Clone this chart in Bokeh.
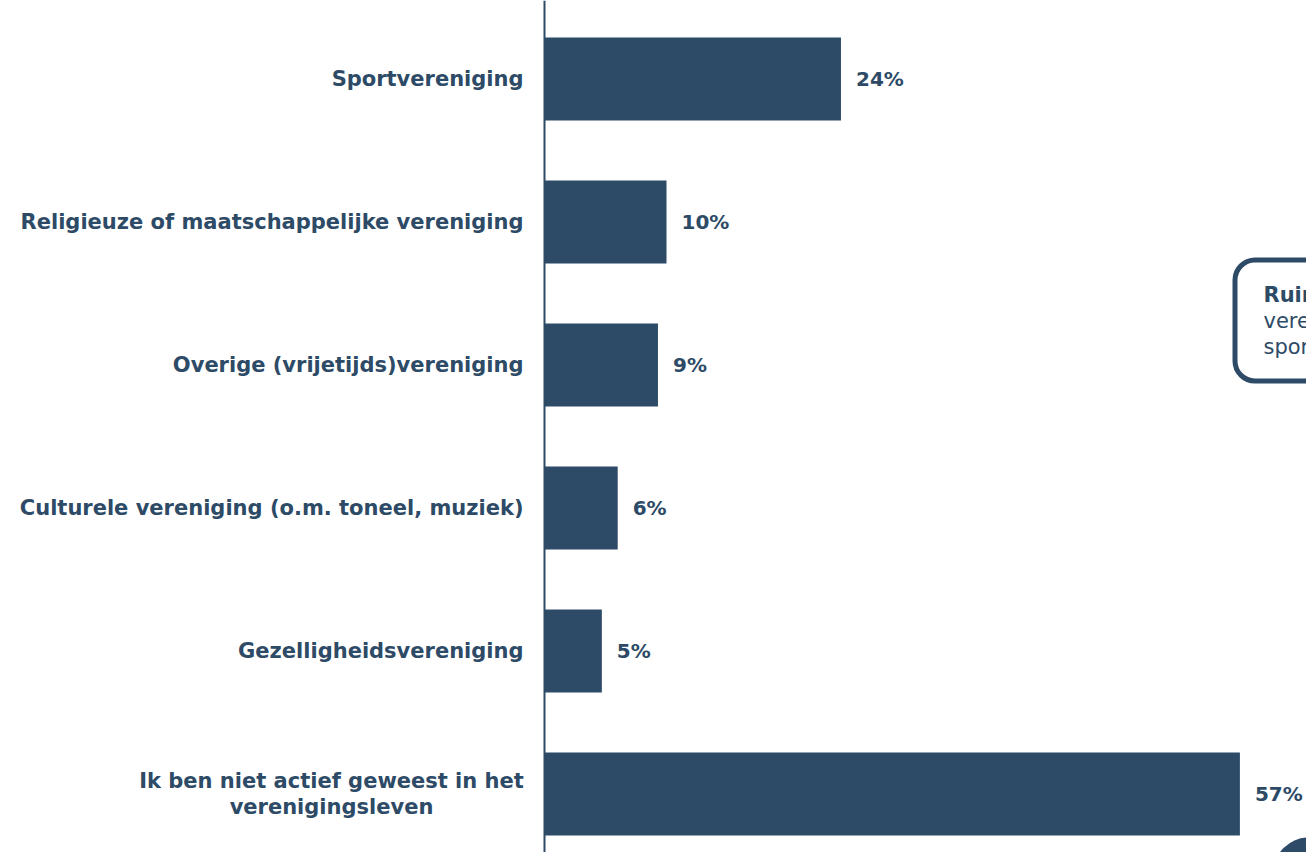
from bokeh.plotting import figure
from bokeh.models import ColumnDataSource, Range1d, Span, BoxAnnotation
from bokeh.core.properties import value
from bokeh.embed import file_html
from bokeh.resources import INLINE

categories = [
    "Sportvereniging",
    "Religieuze of maatschappelijke vereniging",
    "Overige (vrijetijds)vereniging",
    "Culturele vereniging (o.m. toneel, muziek)",
    "Gezelligheidsvereniging",
    "Ik ben niet actief geweest in het\nverenigingsleven",
]
values = [24.3, 10.0, 9.3, 6.0, 4.7, 57.0]
value_labels = ["24%", "10%", "9%", "6%", "5%", "57%"]

callout_lines = ["Ruim 4 op de 10", "verenigingsleden is lid van een", "sportvereniging"]

COLOR = "#2d4a66"
FONT = value("DejaVu Sans")
PX = 12.2  # pixels per percent
AX = 544   # pixel position of the value axis
ROW0, ROW = 78.5, 143.0

idx = list(range(len(categories)))
single = [i for i in idx if "\n" not in categories[i]]
multi = [i for i in idx if "\n" in categories[i]]
src = ColumnDataSource(dict(y=idx, v=values, lab=value_labels))
src1 = ColumnDataSource(dict(y=single, cat=[categories[i] for i in single]))
src2 = ColumnDataSource(dict(y=multi, cat=[categories[i] for i in multi]))

W, H = 1306, 852
p = figure(width=W, height=H, output_backend="svg", toolbar_location=None,
           x_range=Range1d(-AX / PX, (W - AX) / PX),
           y_range=Range1d((H - ROW0) / ROW, (0 - ROW0) / ROW),
           x_axis_location=None, y_axis_location=None,
           min_border=0, outline_line_color=None)
p.grid.visible = False
p.background_fill_color = "white"
p.border_fill_color = "white"

p.hbar(y="y", left=0, right="v", height=0.58, source=src, fill_color=COLOR, line_color=None)

p.add_layout(Span(location=0, dimension="height", line_color=COLOR, line_width=2))

p.text(x=0, y="y", text="cat", source=src1, x_offset=-21, text_align="right",
       text_baseline="middle", text_font=FONT, text_font_style="bold",
       text_font_size="21px", text_color=COLOR)
p.text(x=0, y="y", text="cat", source=src2, x_offset=-213, text_align="center",
       text_baseline="middle", text_font=FONT, text_font_style="bold",
       text_font_size="21px", text_color=COLOR, text_line_height=1.05)

p.text(x="v", y="y", text="lab", source=src, x_offset=15, text_align="left",
       text_baseline="middle", text_font=FONT, text_font_style="bold",
       text_font_size="20px", text_color=COLOR)

# callout box (cut off at the right edge)
p.add_layout(BoxAnnotation(left=(1234.5 - AX) / PX, right=80,
                           top=(259.5 - ROW0) / ROW, bottom=(380.5 - ROW0) / ROW,
                           fill_color="white", fill_alpha=1.0, line_color=COLOR,
                           line_alpha=1.0, line_width=5, border_radius=20,
                           level="underlay"))
cx = (1263 - AX) / PX
cy = [(294 - ROW0) / ROW, (320 - ROW0) / ROW, (346 - ROW0) / ROW]
p.text(x=[cx], y=[cy[0]], text=[callout_lines[0]], text_align="left", text_baseline="middle",
       text_font=FONT, text_font_style="bold", text_font_size="21px", text_color=COLOR)
p.text(x=[cx, cx], y=cy[1:], text=callout_lines[1:], text_align="left", text_baseline="middle",
       text_font=FONT, text_font_size="21px", text_color=COLOR)

# page badge circle at the bottom right
p.circle(x=[(1308 - AX) / PX], y=[(872 - ROW0) / ROW], radius=35, radius_units="screen",
         fill_color=COLOR, line_color=None)

open("out.html", "w").write(file_html(p, INLINE))
